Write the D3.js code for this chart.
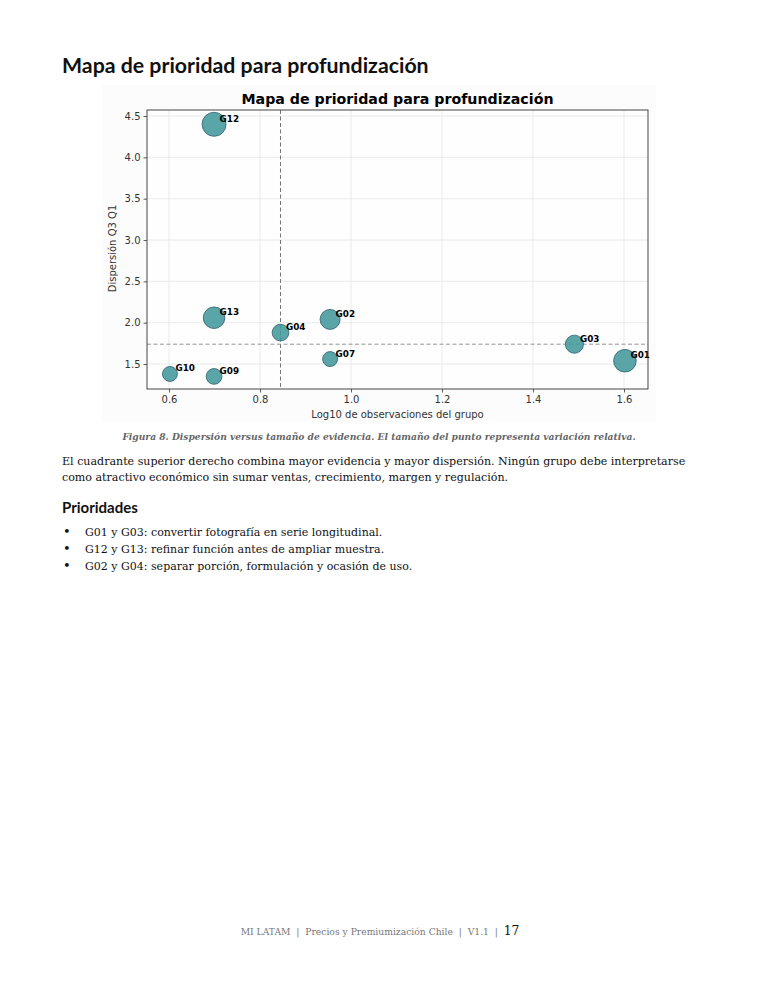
<!DOCTYPE html>
<html>
<head>
<meta charset="utf-8">
<script src="https://cdn.jsdelivr.net/npm/d3@7"></script>
<style>
  body { margin: 0; background: #fff; }
  svg { display: block; }
  .pre { white-space: pre; }
</style>
</head>
<body>
<svg id="page" width="760" height="984"></svg>
<script>
// datos del gráfico
const groups = ["G01", "G02", "G03", "G04", "G07", "G09", "G10", "G12", "G13"];
const logObs = [1.602, 0.954, 1.491, 0.845, 0.954, 0.699, 0.602, 0.699, 0.699];
const dispersion = [1.54, 2.04, 1.74, 1.88, 1.56, 1.35, 1.38, 4.40, 2.06];
const relVar = [0.64, 0.50, 0.41, 0.35, 0.28, 0.31, 0.28, 0.72, 0.58];
const xTicks = [0.6, 0.8, 1.0, 1.2, 1.4, 1.6];
const yTicks = [1.5, 2.0, 2.5, 3.0, 3.5, 4.0, 4.5];

const svg = d3.select("#page");
const serif = "'DejaVu Serif', serif";
const sans = "Lato, 'Noto Sans', sans-serif";
const mpl = "'DejaVu Sans', sans-serif";

// encabezado de la página
svg.append("text")
  .attr("x", 62).attr("y", 73)
  .style("font-family", sans).style("font-weight", 700).style("font-size", "21.3px")
  .attr("fill", "#111")
  .text("Mapa de prioridad para profundización");

// fondo de la figura
svg.append("rect")
  .attr("x", 102).attr("y", 85).attr("width", 554).attr("height", 337)
  .attr("fill", "#fcfcfc");

// ---- gráfico ----
const margin = { top: 110, left: 147 },
  width = 501,
  height = 279;

const g = svg.append("g")
  .attr("transform", "translate(" + margin.left + "," + margin.top + ")");

const x = d3.scaleLinear().domain([0.5516, 1.6527]).range([0, width]);
const y = d3.scaleLinear().domain([1.198, 4.573]).range([height, 0]);
const r = d3.scaleSqrt().domain([0, d3.max(relVar)]).range([0, 12]);

g.append("rect").attr("width", width).attr("height", height).attr("fill", "#fefefe");

// grilla
g.append("g").selectAll("line").data(xTicks).enter().append("line")
  .attr("x1", d => x(d)).attr("x2", d => x(d))
  .attr("y1", 0).attr("y2", height)
  .attr("stroke", "#e6e6e6").attr("stroke-width", 0.8);
g.append("g").selectAll("line").data(yTicks).enter().append("line")
  .attr("x1", 0).attr("x2", width)
  .attr("y1", d => y(d)).attr("y2", d => y(d))
  .attr("stroke", "#e6e6e6").attr("stroke-width", 0.8);

// líneas de mediana
const medX = d3.median(logObs), medY = d3.median(dispersion);
g.append("line")
  .attr("x1", x(medX)).attr("x2", x(medX)).attr("y1", 0).attr("y2", height)
  .attr("stroke", "#666").attr("stroke-width", 0.9).attr("stroke-dasharray", "4,2.5");
g.append("line")
  .attr("x1", 0).attr("x2", width).attr("y1", y(medY)).attr("y2", y(medY))
  .attr("stroke", "#888").attr("stroke-width", 0.9).attr("stroke-dasharray", "4,2.5");

// burbujas
const idx = d3.range(groups.length);
g.selectAll(".bubble").data(idx).enter().append("circle")
  .attr("class", "bubble")
  .attr("cx", i => x(logObs[i]))
  .attr("cy", i => y(dispersion[i]))
  .attr("r", i => r(relVar[i]))
  .attr("fill", "#3d9599").attr("fill-opacity", 0.85)
  .attr("stroke", "#2f5f6f").attr("stroke-width", 0.8);

g.selectAll(".lbl").data(idx).enter().append("text")
  .attr("class", "lbl")
  .attr("x", i => x(logObs[i]) + 5.5)
  .attr("y", i => y(dispersion[i]) - 2.5)
  .style("font-family", mpl).style("font-weight", 700).style("font-size", "8.8px")
  .attr("fill", "#000")
  .text(i => groups[i]);

// ejes
const xAxis = d3.axisBottom(x).tickValues(xTicks).tickFormat(d3.format(".1f")).tickSize(3.5).tickSizeOuter(0);
const yAxis = d3.axisLeft(y).tickValues(yTicks).tickFormat(d3.format(".1f")).tickSize(3.5).tickSizeOuter(0);

const gx = g.append("g").attr("transform", "translate(0," + height + ")").call(xAxis);
const gy = g.append("g").call(yAxis);
[gx, gy].forEach(a => {
  a.select(".domain").remove();
  a.selectAll("line").attr("stroke", "#333").attr("stroke-width", 0.8);
  a.selectAll("text").style("font-family", mpl).style("font-size", "10px").attr("fill", "#333");
});
gx.selectAll("text").attr("dy", "0.75em").attr("y", 6.5);
gy.selectAll("text").attr("x", -6.5);

g.append("rect")
  .attr("width", width).attr("height", height)
  .attr("fill", "none").attr("stroke", "#333").attr("stroke-width", 0.9);

g.append("text")
  .attr("x", width / 2).attr("y", -6)
  .attr("text-anchor", "middle")
  .style("font-family", mpl).style("font-weight", 700).style("font-size", "14.2px")
  .attr("fill", "#000")
  .text("Mapa de prioridad para profundización");

g.append("text")
  .attr("x", width / 2).attr("y", height + 29)
  .attr("text-anchor", "middle")
  .style("font-family", mpl).style("font-size", "10px").attr("fill", "#333")
  .text("Log10 de observaciones del grupo");

g.append("text")
  .attr("transform", "translate(-31," + (height / 2 - 1) + ") rotate(-90)")
  .attr("text-anchor", "middle")
  .style("font-family", mpl).style("font-size", "10px").attr("fill", "#333")
  .text("Dispersión Q3 Q1");

// ---- texto de la página ----
svg.append("text")
  .attr("x", 379).attr("y", 440).attr("text-anchor", "middle")
  .style("font-family", serif).style("font-style", "italic").style("font-weight", 700)
  .style("font-size", "9.15px").attr("fill", "#666")
  .text("Figura 8. Dispersión versus tamaño de evidencia. El tamaño del punto representa variación relativa.");

const para = [
  "El cuadrante superior derecho combina mayor evidencia y mayor dispersión. Ningún grupo debe interpretarse",
  "como atractivo económico sin sumar ventas, crecimiento, margen y regulación."
];
svg.selectAll(".para").data(para).enter().append("text")
  .attr("class", "para")
  .attr("x", 62).attr("y", (d, i) => 465 + i * 16)
  .style("font-family", serif).style("font-size", "11.07px").attr("fill", "#111")
  .text(d => d);

svg.append("text")
  .attr("x", 62).attr("y", 513)
  .style("font-family", sans).style("font-weight", 700).style("font-size", "15px")
  .attr("fill", "#111")
  .text("Prioridades");

const bullets = [
  "G01 y G03: convertir fotografía en serie longitudinal.",
  "G12 y G13: refinar función antes de ampliar muestra.",
  "G02 y G04: separar porción, formulación y ocasión de uso."
];
const bl = svg.selectAll(".bullet").data(bullets).enter().append("g")
  .attr("class", "bullet")
  .attr("transform", (d, i) => "translate(0," + (536 + i * 17) + ")");
bl.append("text").attr("x", 63)
  .style("font-family", serif).style("font-size", "13px").attr("fill", "#111")
  .text("•");
bl.append("text").attr("x", 85)
  .style("font-family", serif).style("font-size", "11px").attr("fill", "#111")
  .text(d => d);

// pie de página
const foot = svg.append("text")
  .attr("class", "pre")
  .attr("x", 380).attr("y", 935).attr("text-anchor", "middle")
  .style("font-family", serif).attr("fill", "#777").style("font-size", "9.2px");
foot.append("tspan").text("MI LATAM  |  Precios y Premiumización Chile  |  V1.1  |  ");
foot.append("tspan").attr("fill", "#111").style("font-size", "12.3px").text("17");
</script>
</body>
</html>
